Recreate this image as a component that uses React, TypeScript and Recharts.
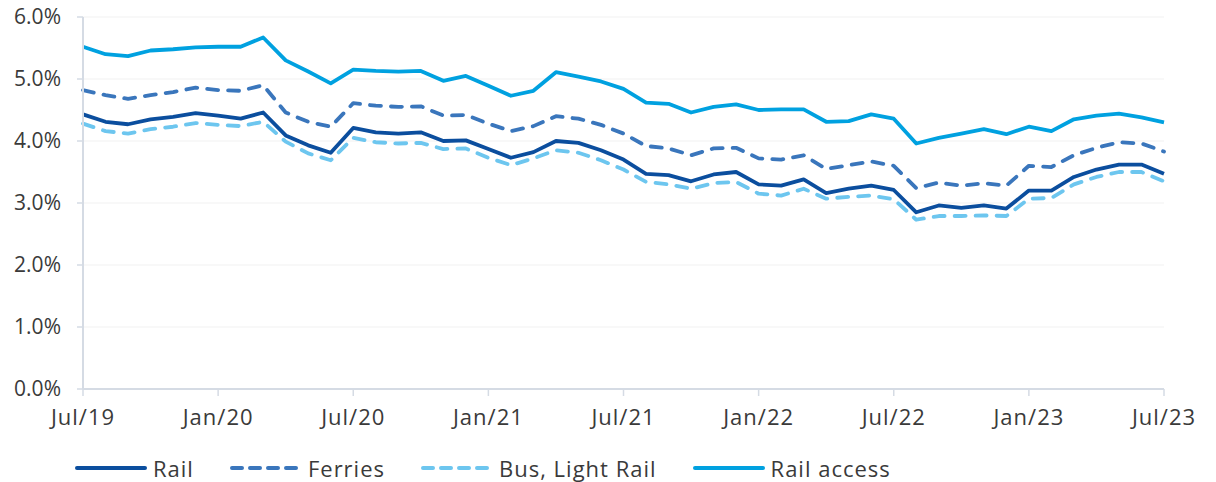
import React from 'react';
import { LineChart, Line, XAxis, YAxis, CartesianGrid, Legend } from 'recharts';

const months = [
  'Jul/19','Aug/19','Sep/19','Oct/19','Nov/19','Dec/19',
  'Jan/20','Feb/20','Mar/20','Apr/20','May/20','Jun/20',
  'Jul/20','Aug/20','Sep/20','Oct/20','Nov/20','Dec/20',
  'Jan/21','Feb/21','Mar/21','Apr/21','May/21','Jun/21',
  'Jul/21','Aug/21','Sep/21','Oct/21','Nov/21','Dec/21',
  'Jan/22','Feb/22','Mar/22','Apr/22','May/22','Jun/22',
  'Jul/22','Aug/22','Sep/22','Oct/22','Nov/22','Dec/22',
  'Jan/23','Feb/23','Mar/23','Apr/23','May/23','Jun/23',
  'Jul/23',
];

const xTicks = ['Jul/19','Jan/20','Jul/20','Jan/21','Jul/21','Jan/22','Jul/22','Jan/23','Jul/23'];
const yTicks = [0, 1, 2, 3, 4, 5, 6];

const rail = [
  4.43,4.31,4.27,4.35,4.39,4.45,4.41,4.36,4.46,4.09,3.93,3.81,4.21,
  4.14,4.12,4.14,4.00,4.01,3.87,3.73,3.82,4.00,3.97,3.85,3.70,
  3.47,3.45,3.35,3.46,3.50,3.30,3.28,3.38,3.16,3.23,3.28,3.21,
  2.85,2.96,2.92,2.96,2.91,3.20,3.20,3.42,3.54,3.62,3.62,3.47,
];

const ferries = [
  4.82,4.74,4.68,4.74,4.79,4.86,4.82,4.81,4.90,4.46,4.31,4.23,4.61,
  4.57,4.55,4.56,4.41,4.42,4.28,4.16,4.24,4.40,4.36,4.26,4.12,
  3.92,3.88,3.77,3.88,3.89,3.72,3.70,3.77,3.55,3.61,3.67,3.60,
  3.24,3.33,3.28,3.32,3.28,3.60,3.58,3.77,3.89,3.98,3.96,3.83,
];

const bus = [
  4.28,4.16,4.12,4.19,4.23,4.29,4.26,4.24,4.31,3.99,3.80,3.69,4.05,
  3.98,3.96,3.97,3.87,3.88,3.73,3.61,3.72,3.85,3.81,3.69,3.54,
  3.34,3.30,3.23,3.32,3.34,3.15,3.12,3.23,3.07,3.10,3.12,3.06,
  2.73,2.79,2.79,2.80,2.79,3.07,3.08,3.30,3.42,3.50,3.50,3.35,
];

const railAccess = [
  5.52,5.40,5.37,5.46,5.48,5.51,5.52,5.52,5.67,5.30,5.12,4.93,5.15,
  5.13,5.12,5.13,4.97,5.05,4.89,4.73,4.81,5.11,5.04,4.96,4.84,
  4.62,4.60,4.46,4.55,4.59,4.50,4.51,4.51,4.31,4.32,4.43,4.36,
  3.96,4.05,4.12,4.19,4.11,4.23,4.16,4.35,4.41,4.44,4.38,4.30,
];

const data = months.map((m, i) => ({
  month: m,
  rail: rail[i],
  ferries: ferries[i],
  bus: bus[i],
  railAccess: railAccess[i],
}));

const FONT = "'Open Sans', sans-serif";
const TEXT = '#3a3a3a';
const AXIS = '#d5dbe4';

const seriesDefs = [
  { key: 'rail', name: 'Rail', color: '#0b4e9e', dash: undefined as string | undefined },
  { key: 'ferries', name: 'Ferries', color: '#3a76bc', dash: '11 10' },
  { key: 'bus', name: 'Bus, Light Rail', color: '#6dc6ef', dash: '11 10' },
  { key: 'railAccess', name: 'Rail access', color: '#00a1e0', dash: undefined as string | undefined },
];

const LegendContent = () => (
  <div
    style={{
      display: 'flex',
      alignItems: 'center',
      height: 44,
      paddingTop: 16,
      paddingLeft: 75,
      boxSizing: 'border-box',
      fontFamily: FONT,
      fontSize: 22,
      letterSpacing: 1,
      color: TEXT,
      lineHeight: '22px',
    }}
  >
    {seriesDefs.map((s) => (
      <div key={s.key} style={{ display: 'flex', alignItems: 'center', marginRight: 36 }}>
        <svg width={72} height={10} style={{ marginRight: 6 }}>
          <line
            x1={2}
            y1={5}
            x2={70}
            y2={5}
            stroke={s.color}
            strokeWidth={4}
            strokeLinecap="round"
            strokeDasharray={s.dash ? '10 8' : undefined}
          />
        </svg>
        <span>{s.name}</span>
      </div>
    ))}
  </div>
);

export default function App() {
  return (
    <div style={{ width: 1216, height: 482, marginTop: -8, marginLeft: -8 }}>
      <LineChart
        width={1216}
        height={482}
        data={data}
        margin={{ top: 17, right: 52, bottom: 0, left: 0 }}
      >
        <CartesianGrid vertical={false} stroke="#f1f1f1" strokeWidth={1} />
        <XAxis
          dataKey="month"
          ticks={xTicks}
          interval={0}
          height={49}
          tickSize={7}
          tickMargin={13}
          axisLine={{ stroke: AXIS, strokeWidth: 2 }}
          tickLine={{ stroke: AXIS, strokeWidth: 1.5 }}
          tick={{ fill: TEXT, fontSize: 22, fontFamily: FONT, letterSpacing: 1 }}
        />
        <YAxis
          domain={[0, 6]}
          ticks={yTicks}
          width={83}
          tickSize={6}
          tickMargin={16}
          tickFormatter={(v: number) => `${v.toFixed(1)}%`}
          axisLine={{ stroke: AXIS, strokeWidth: 2 }}
          tickLine={{ stroke: AXIS, strokeWidth: 1.5 }}
          tick={{ fill: TEXT, fontSize: 21, fontFamily: FONT }}
        />
        <Legend verticalAlign="bottom" align="left" height={44} content={<LegendContent />} />
        {seriesDefs.map((s) => (
          <Line
            key={s.key}
            type="linear"
            dataKey={s.key}
            name={s.name}
            stroke={s.color}
            strokeWidth={3.8}
            strokeDasharray={s.dash}
            strokeLinecap={s.dash ? 'round' : 'butt'}
            strokeLinejoin="round"
            dot={false}
            activeDot={false}
            isAnimationActive={false}
          />
        ))}
      </LineChart>
    </div>
  );
}
